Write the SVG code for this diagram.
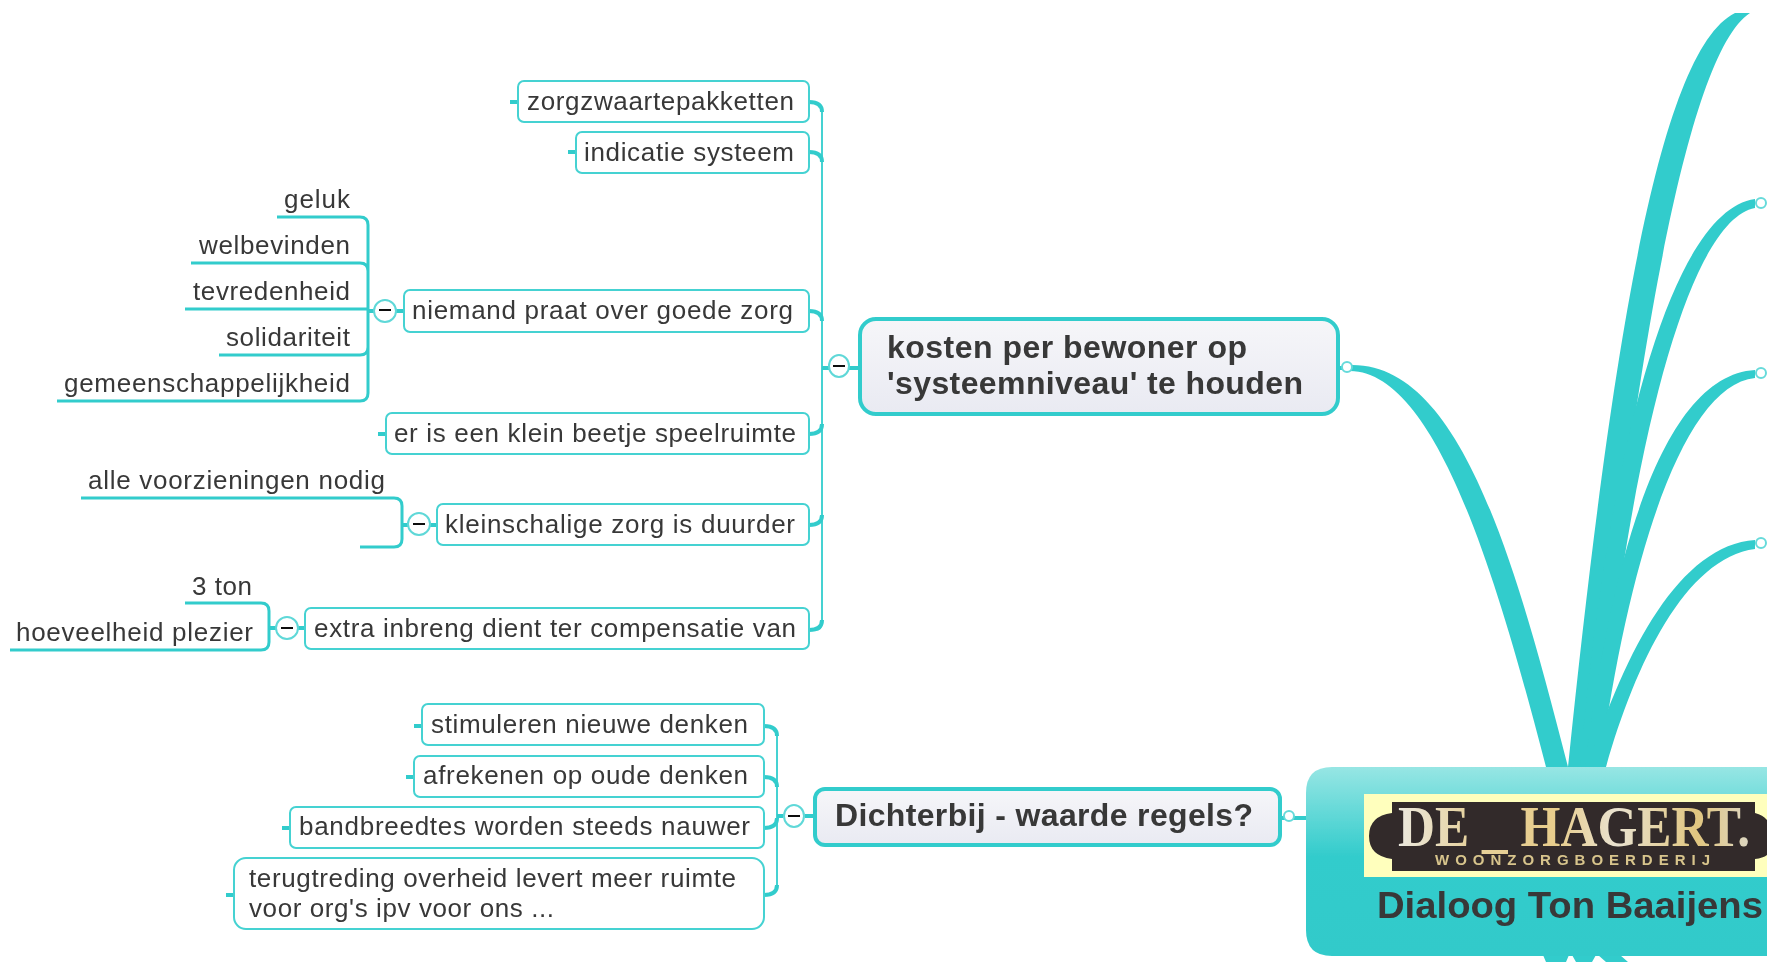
<svg xmlns="http://www.w3.org/2000/svg" width="1767" height="962" viewBox="0 0 1767 962">
<style>
text{font-family:"Liberation Sans",Arial,sans-serif;fill:#383838}
.t{font-size:26px}
.b{font-size:32px;font-weight:bold}
.box{fill:#fff;stroke:#45d2d2;stroke-width:2}
.main{fill:url(#mg);stroke:#33cccc;stroke-width:4}
.ln{fill:none;stroke:#45d2d2;stroke-width:2}
.ul{fill:none;stroke:#33cccc;stroke-width:3}
.stub{fill:none;stroke:#33cccc;stroke-width:4}
.th{fill:#33cccc}
.tg{fill:#fff;stroke:#5fd8d8;stroke-width:2}
.mn{stroke:#111;stroke-width:2}
.oc{fill:#fff;stroke:#66dada;stroke-width:2}
</style>
<defs>
<linearGradient id="mg" x1="0" y1="0" x2="0" y2="1"><stop offset="0" stop-color="#f6f6f9"/><stop offset="1" stop-color="#e9eaf2"/></linearGradient>
<linearGradient id="cg" x1="0" y1="0" x2="0" y2="1"><stop offset="0" stop-color="#97e6e4"/><stop offset=".47" stop-color="#33cccc"/><stop offset="1" stop-color="#30caca"/></linearGradient>
<linearGradient id="gold" gradientUnits="userSpaceOnUse" x1="1398" y1="0" x2="1750" y2="0"><stop offset="0" stop-color="#ebe8de"/><stop offset=".22" stop-color="#e6d099"/><stop offset=".45" stop-color="#e8cd8c"/><stop offset=".62" stop-color="#e9e2d0"/><stop offset=".85" stop-color="#e1c680"/><stop offset="1" stop-color="#ddd6c2"/></linearGradient>
<filter id="soft" filterUnits="userSpaceOnUse" x="0" y="0" width="1767" height="962"><feGaussianBlur stdDeviation="0.5"/></filter>
</defs>
<g filter="url(#soft)">
<g id="connectors">
<path class="th" d="M1350 365C1460 362 1515 560 1568 767L1546 767C1495 570 1435 372 1350 371Z"/>
<path class="th" d="M1735 13C1660 50 1612 340 1568 767L1592 767C1632 380 1685 55 1750 13Z"/>
<path class="th" d="M1755 199C1675 210 1610 430 1580 767L1598 767C1630 440 1690 220 1755 208Z"/>
<path class="th" d="M1755 370C1670 375 1615 530 1585 767L1600 767C1630 550 1685 385 1755 378Z"/>
<path class="th" d="M1755 540C1680 545 1625 650 1588 767L1606 767C1635 665 1685 558 1755 549Z"/>
<path class="th" d="M1543 955H1569L1566 962H1546ZM1572 955H1596L1592 962H1576ZM1598 955H1620L1628 962H1606Z"/>
<path class="stub" d="M1282 818H1306M1339 368H1350"/>
<path class="ln" d="M822 110V622Q822 630 815 630"/>
<path class="stub" d="M809 102Q822 102 822 112M809 152Q822 152 822 162M809 311Q822 311 822 321M809 434Q822 434 822 424M809 525Q822 525 822 515M809 630Q822 630 822 620M822 368H859"/>
<path class="stub" d="M510 102H518M568 152H576M378 434H386"/>
<path class="ln" d="M368 226V392"/>
<path class="ul" d="M277 217H360Q368 217 368 225V393Q368 401 360 401H57M191 263H360Q368 263 368 271M185 309H368M219 355H360Q368 355 368 347"/>
<path class="stub" d="M368 311H374M396 311H404M430 525H437M402 525H408M270 628H276M298 628H305"/>
<path class="ul" d="M81 498H394Q402 498 402 506V539Q402 547 394 547H360M185 603H261Q269 603 269 611V642Q269 650 261 650H10"/>
<path class="ln" d="M777 735V885"/>
<path class="stub" d="M764 726Q777 726 777 736M764 777Q777 777 777 787M764 828Q777 828 777 818M764 895Q777 895 777 885M777 816H783M805 816H814"/>
<path class="stub" d="M414 726H422M406 777H414M282 828H290M226 895H234"/>
</g>
<g id="n-center">
<path d="M1767 767H1332Q1306 767 1306 793V930Q1306 956 1332 956H1767Z" fill="url(#cg)"/>
<rect x="1364" y="794" width="403" height="83" fill="#ffffbd"/>
<path d="M1392 802H1755V813Q1763 815 1767 820V855Q1763 858 1755 859V871H1392V859Q1369 856 1369 836Q1369 816 1392 813Z" fill="#312b2a"/>
<text x="1398" y="846" font-size="58" font-weight="bold" style="font-family:'Liberation Serif',serif;fill:url(#gold)" textLength="352" lengthAdjust="spacingAndGlyphs">DE _ HAGERT.</text>
<text x="1435" y="865" font-size="15" font-weight="bold" style="fill:#d8c48c" textLength="275">WOONZORGBOERDERIJ</text>
<text x="1377" y="918" style="font-size:36px;font-weight:bold" textLength="386" lengthAdjust="spacingAndGlyphs">Dialoog Ton Baaijens</text>
</g>
<g id="n-kosten">
<rect class="main" x="860" y="319" width="478" height="95" rx="16"/>
<text class="b" x="887" y="358" textLength="360">kosten per bewoner op</text>
<text class="b" x="887" y="394" textLength="416">'systeemniveau' te houden</text>
<ellipse class="tg" cx="839" cy="366" rx="10" ry="11"/><path class="mn" d="M833 366H845"/>
<circle class="oc" cx="1347" cy="367" r="5"/>
</g>
<g id="n-dichterbij">
<rect class="main" x="815" y="789" width="465" height="56" rx="10"/>
<text class="b" x="835" y="826" textLength="418">Dichterbij - waarde regels?</text>
<ellipse class="tg" cx="794" cy="816" rx="10" ry="11"/><path class="mn" d="M788 816H800"/>
<circle class="oc" cx="1289" cy="816" r="5"/>
</g>
<g id="n-zorgzwaarte"><rect class="box" x="518" y="81" width="291" height="41" rx="6"/><text class="t" x="527" y="110" textLength="267">zorgzwaartepakketten</text></g>
<g id="n-indicatie"><rect class="box" x="576" y="132" width="233" height="41" rx="6"/><text class="t" x="584" y="161" textLength="210">indicatie systeem</text></g>
<g id="n-niemand"><rect class="box" x="404" y="290" width="405" height="42" rx="6"/><text class="t" x="412" y="319" textLength="381">niemand praat over goede zorg</text><ellipse class="tg" cx="385" cy="311" rx="11" ry="11"/><path class="mn" d="M379 310H391"/></g>
<g id="n-geluk"><text class="t" x="284" y="208" textLength="66">geluk</text></g>
<g id="n-welbevinden"><text class="t" x="199" y="254" textLength="151">welbevinden</text></g>
<g id="n-tevredenheid"><text class="t" x="193" y="300" textLength="157">tevredenheid</text></g>
<g id="n-solidariteit"><text class="t" x="226" y="346" textLength="124">solidariteit</text></g>
<g id="n-gemeen"><text class="t" x="64" y="392" textLength="286">gemeenschappelijkheid</text></g>
<g id="n-speelruimte"><rect class="box" x="386" y="413" width="423" height="41" rx="6"/><text class="t" x="394" y="442" textLength="402">er is een klein beetje speelruimte</text></g>
<g id="n-kleinschalig"><rect class="box" x="437" y="504" width="372" height="41" rx="6"/><text class="t" x="445" y="533" textLength="350">kleinschalige zorg is duurder</text><ellipse class="tg" cx="419" cy="524" rx="11" ry="11"/><path class="mn" d="M413 524H425"/></g>
<g id="n-voorzieningen"><text class="t" x="88" y="489" textLength="297">alle voorzieningen nodig</text></g>
<g id="n-extra"><rect class="box" x="305" y="608" width="504" height="41" rx="6"/><text class="t" x="314" y="637" textLength="482">extra inbreng dient ter compensatie van</text><ellipse class="tg" cx="287" cy="628" rx="11" ry="11"/><path class="mn" d="M281 628H293"/></g>
<g id="n-3ton"><text class="t" x="192" y="595" textLength="60">3 ton</text></g>
<g id="n-plezier"><text class="t" x="16" y="641" textLength="237">hoeveelheid plezier</text></g>
<g id="n-stimuleren"><rect class="box" x="422" y="704" width="342" height="41" rx="6"/><text class="t" x="431" y="733" textLength="317">stimuleren nieuwe denken</text></g>
<g id="n-afrekenen"><rect class="box" x="414" y="756" width="350" height="41" rx="6"/><text class="t" x="423" y="784" textLength="325">afrekenen op oude denken</text></g>
<g id="n-bandbreedtes"><rect class="box" x="290" y="807" width="474" height="41" rx="6"/><text class="t" x="299" y="835" textLength="451">bandbreedtes worden steeds nauwer</text></g>
<g id="n-terugtreding"><rect class="box" x="234" y="858" width="530" height="71" rx="12"/><text class="t" x="249" y="887" textLength="487">terugtreding overheid levert meer ruimte</text><text class="t" x="249" y="917" textLength="305">voor org's ipv voor ons ...</text></g>
<g id="openers"><circle class="oc" cx="1761" cy="203" r="5"/><circle class="oc" cx="1761" cy="373" r="5"/><circle class="oc" cx="1761" cy="543" r="5"/></g>
</g>
</svg>
